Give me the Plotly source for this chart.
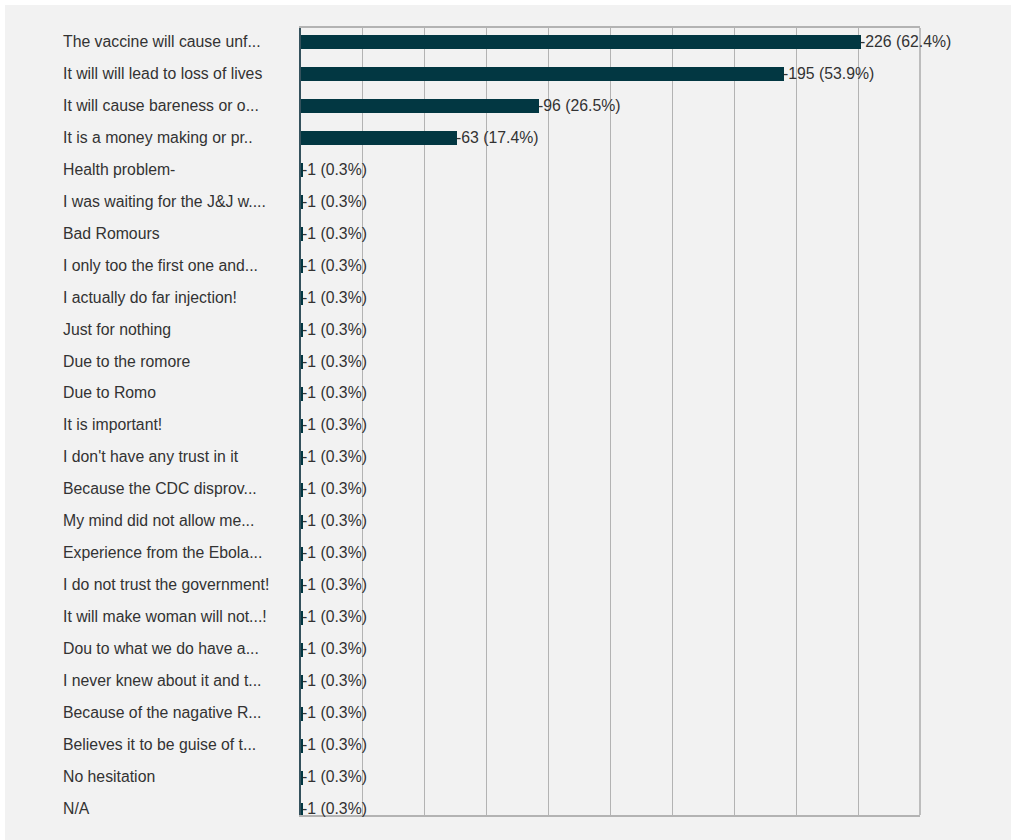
import plotly.graph_objects as go

categories = [
    "The vaccine will cause unf...",
    "It will will lead to loss of lives",
    "It will cause bareness or o...",
    "It is a money making or pr..",
    "Health problem-",
    "I was waiting for the J&J w....",
    "Bad Romours",
    "I only too the first one and...",
    "I actually do far injection!",
    "Just for nothing",
    "Due to the romore",
    "Due to Romo",
    "It is important!",
    "I don't have any trust in it",
    "Because the CDC disprov...",
    "My mind did not allow me...",
    "Experience from the Ebola...",
    "I do not trust the government!",
    "It will make woman will not...!",
    "Dou to what we do have a...",
    "I never knew about it and t...",
    "Because of the nagative R...",
    "Believes it to be guise of t...",
    "No hesitation",
    "N/A",
]
counts = [226, 195, 96, 63, 1, 1, 1, 1, 1, 1, 1, 1, 1, 1, 1, 1, 1, 1, 1, 1, 1, 1, 1, 1, 1]
percents = [62.4, 53.9, 26.5, 17.4, 0.3, 0.3, 0.3, 0.3, 0.3, 0.3, 0.3, 0.3, 0.3, 0.3, 0.3,
            0.3, 0.3, 0.3, 0.3, 0.3, 0.3, 0.3, 0.3, 0.3, 0.3]

W, H = 1011, 840
L, R, T, B = 301, 920, 28, 815
pw, ph = R - L, B - T

def px_x(p):
    return (p - L) / pw

def px_y(p):
    return (B - p) / ph

FONT = "Liberation Sans, Arial, sans-serif"
FS = 15.8
TXT = "#333333"
BAR = "#023742"

idx = list(range(len(categories)))

fig = go.Figure()
fig.add_trace(go.Bar(
    x=counts, y=idx, orientation="h", width=0.44,
    marker=dict(color=BAR, line=dict(width=0)),
    hoverinfo="skip",
))

annotations = []
for i, (c, v, p) in enumerate(zip(categories, counts, percents)):
    annotations.append(dict(
        x=px_x(63), xref="paper", y=i, yref="y", text=c, showarrow=False,
        xanchor="left", yanchor="middle", xshift=-2, yshift=1,
        font=dict(family=FONT, size=FS, color=TXT),
    ))
    annotations.append(dict(
        x=v, xref="x", y=i, yref="y", text=f"-{v} ({p}%)", showarrow=False,
        xanchor="left", yanchor="middle", xshift=-3, yshift=1,
        font=dict(family=FONT, size=FS, color=TXT),
    ))

shapes = [
    # grey panel background
    dict(type="rect", xref="paper", yref="paper", layer="below",
         x0=px_x(5), x1=px_x(W + 5), y0=px_y(H + 5), y1=px_y(5),
         fillcolor="#f2f2f2", line=dict(width=0)),
    # right border
    dict(type="line", xref="paper", yref="paper", x0=1, x1=1, y0=0, y1=1,
         line=dict(color="#bdbdbd", width=2)),
]

fig.update_layout(
    width=W, height=H,
    margin=dict(l=L, r=W - R, t=T, b=H - B, pad=0),
    paper_bgcolor="white", plot_bgcolor="rgba(0,0,0,0)",
    showlegend=False, bargap=0,
    annotations=annotations, shapes=shapes,
    xaxis=dict(range=[0, 250], dtick=25, tick0=0, showticklabels=False,
               showgrid=True, gridcolor="#b3b3b3", gridwidth=1, zeroline=False,
               showline=True, linecolor="#b3b3b3", linewidth=2, mirror=True,
               fixedrange=True),
    yaxis=dict(range=[24.16, -0.44], showticklabels=False, showgrid=False,
               zeroline=False, showline=True, linecolor="#35525d", linewidth=2,
               ticks="", fixedrange=True),
)

fig.write_html("out.html")
